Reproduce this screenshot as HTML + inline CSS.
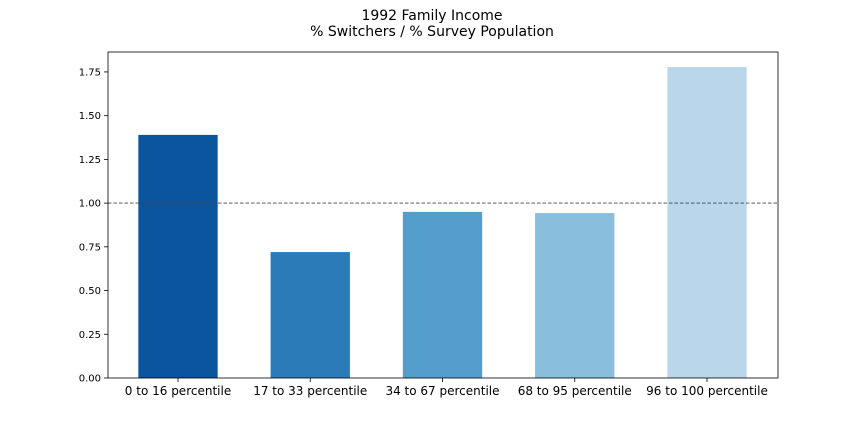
<!DOCTYPE html>
<html>
<head>
<meta charset="utf-8">
<style>
html,body{margin:0;padding:0;background:#fff;}
svg{display:block;font-family:"DejaVu Sans","Liberation Sans",sans-serif;}
</style>
</head>
<body>
<svg id="chart" width="864" height="432" viewBox="0 0 864 432">
  <rect x="0" y="0" width="864" height="432" fill="#fff"/>
  <text x="432" y="20" text-anchor="middle" font-size="14" fill="#000">1992 Family Income</text>
  <text x="432" y="36" text-anchor="middle" font-size="14" fill="#000">% Switchers / % Survey Population</text>
  <g id="plot"></g>
</svg>
<script>
const categories = ["0 to 16 percentile","17 to 33 percentile","34 to 67 percentile","68 to 95 percentile","96 to 100 percentile"];
const values = [1.39, 0.72, 0.95, 0.943, 1.778];
const colors = ["#0b559f","#2c7bb9","#539ecd","#89bedc","#bad6ea"];
const yTicks = [0,0.25,0.5,0.75,1.0,1.25,1.5,1.75];
const yTickLabels = ["0.00","0.25","0.50","0.75","1.00","1.25","1.50","1.75"];
const refValue = 1.0;

const NS="http://www.w3.org/2000/svg";
const g=document.getElementById('plot');
const L=108,R=778,T=52,B=378;
const yMax=1.864;
function y(v){return B-(v/yMax)*(B-T);}
const step=132.25, x0=178;
function x(i){return x0+i*step;}
const bw=step*0.6;
function mk(tag,attrs){const e=document.createElementNS(NS,tag);for(const k in attrs)e.setAttribute(k,attrs[k]);g.appendChild(e);return e;}

values.forEach((v,i)=>{
  const r=mk('rect',{x:x(i)-bw/2,y:y(v),width:bw,height:B-y(v),fill:colors[i]});
  
  
  const t=mk('text',{x:x(i),y:B+17,'text-anchor':'middle','font-size':12,fill:'#000'});
  t.textContent=categories[i];
  
  
  const tk=mk('line',{x1:x(i),x2:x(i),y1:B,y2:B+4,stroke:'#000','stroke-width':0.8});
  
  
});
yTicks.forEach((v,i)=>{
  const tk=mk('line',{x1:L-4,x2:L,y1:y(v),y2:y(v),stroke:'#000','stroke-width':0.8});
  
  
  const t=mk('text',{x:L-7,y:y(v)+3.5,'text-anchor':'end','font-size':10,fill:'#000'});
  t.textContent=yTickLabels[i];
  
  
});
const ref=mk('line',{x1:L,x2:R,y1:y(refValue),y2:y(refValue),stroke:'#444','stroke-width':0.9,'stroke-dasharray':'3.5,2'});


const frame=mk('rect',{x:L,y:T,width:R-L,height:B-T,fill:'none',stroke:'#000','stroke-width':0.8});


</script>
</body>
</html>
